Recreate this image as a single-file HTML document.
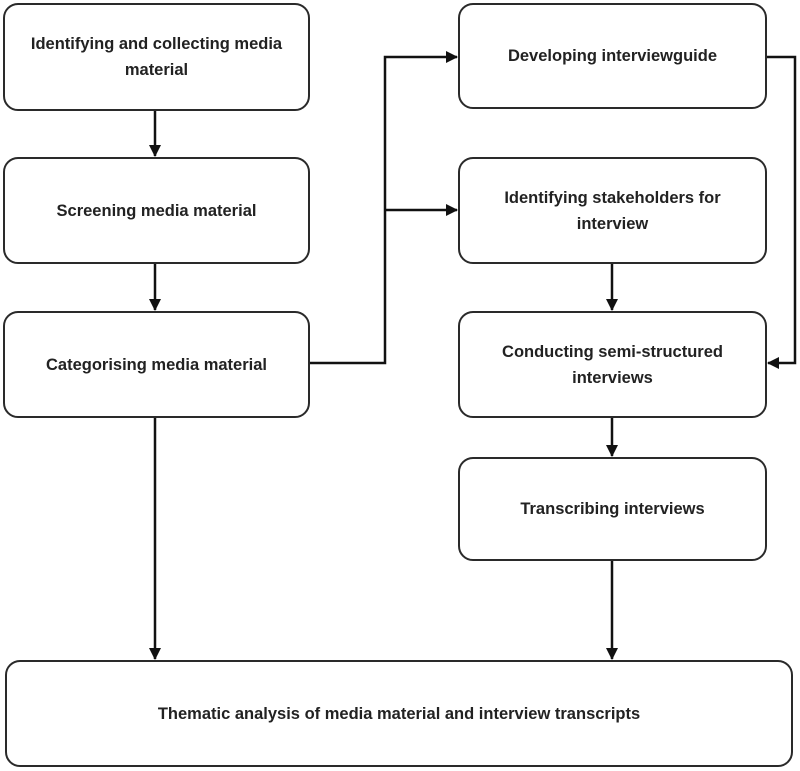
<!DOCTYPE html>
<html><head><style>
body{margin:0;width:800px;height:771px;background:#fff;position:relative;overflow:hidden;font-family:"Liberation Sans",sans-serif;}
.b{position:absolute;box-sizing:border-box;border:2px solid #2a2a2a;border-radius:15px;display:flex;align-items:center;justify-content:center;text-align:center;font-size:16.5px;font-weight:bold;color:#222;line-height:26px;padding:0 6px;white-space:nowrap;}
svg{position:absolute;left:0;top:0}
</style></head><body>
<div class="b" style="left:3px;top:3px;width:307px;height:108px">Identifying and collecting media<br>material</div>
<div class="b" style="left:3px;top:157px;width:307px;height:107px">Screening media material</div>
<div class="b" style="left:3px;top:311px;width:307px;height:107px">Categorising media material</div>
<div class="b" style="left:458px;top:3px;width:309px;height:106px">Developing interviewguide</div>
<div class="b" style="left:458px;top:157px;width:309px;height:107px">Identifying stakeholders for<br>interview</div>
<div class="b" style="left:458px;top:311px;width:309px;height:107px">Conducting semi-structured<br>interviews</div>
<div class="b" style="left:458px;top:457px;width:309px;height:104px">Transcribing interviews</div>
<div class="b" style="left:5px;top:660px;width:788px;height:107px">Thematic analysis of media material and interview transcripts</div>
<svg width="800" height="771">
<defs><marker id="a" markerWidth="12" markerHeight="12" refX="11" refY="6" orient="auto" markerUnits="userSpaceOnUse"><path d="M0,0 L12,6 L0,12 z" fill="#111"/></marker></defs>
<g stroke="#111" stroke-width="2.5" fill="none">
<path d="M155,111 V156" marker-end="url(#a)"/>
<path d="M155,264 V310" marker-end="url(#a)"/>
<path d="M155,418 V659" marker-end="url(#a)"/>
<path d="M310,363 H385 V57 H457" marker-end="url(#a)"/>
<path d="M385,210 H457" marker-end="url(#a)"/>
<path d="M767,57 H795 V363 H768" marker-end="url(#a)"/>
<path d="M612,264 V310" marker-end="url(#a)"/>
<path d="M612,418 V456" marker-end="url(#a)"/>
<path d="M612,561 V659" marker-end="url(#a)"/>
</g></svg>
</body></html>
